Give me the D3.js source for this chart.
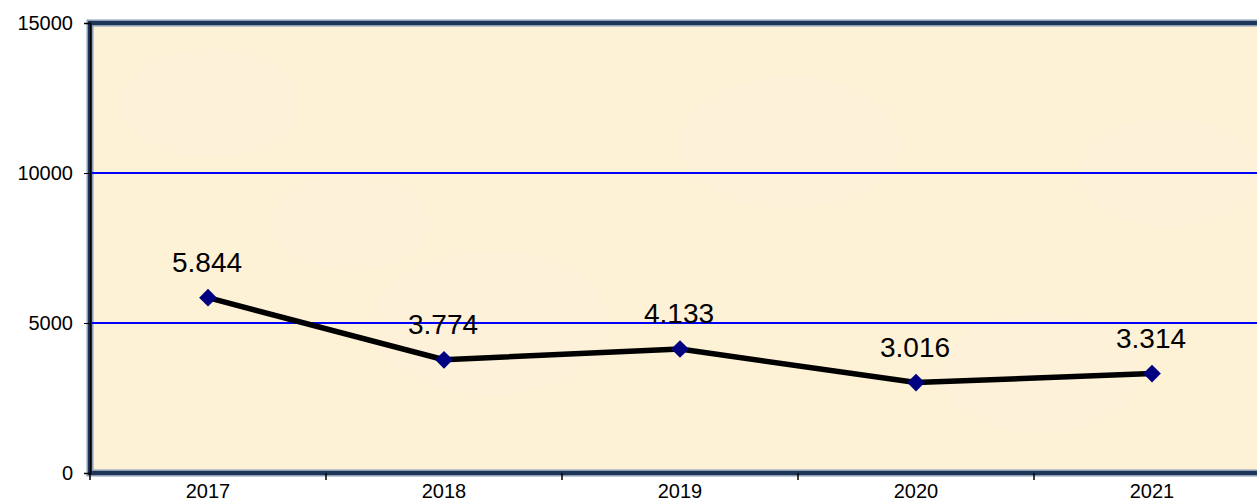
<!DOCTYPE html>
<html lang="en">
<head>
  <meta charset="UTF-8">
  <script src="https://cdn.jsdelivr.net/npm/d3@7"></script>
  <title>Line chart 2017-2021</title>
  <style>
    body { margin: 0; background: #fff; }
    svg { display: block; font-family: Arial, "Liberation Sans", sans-serif; }
  </style>
</head>
<body>
  <svg id="chart" width="1257" height="501"></svg>
  <script>
    // data
    const years = ["2017", "2018", "2019", "2020", "2021"];
    const values = [5844, 3774, 4133, 3016, 3314];
    const labels = ["5.844", "3.774", "4.133", "3.016", "3.314"];
    const yTicks = [0, 5000, 10000, 15000];

    let svg = d3.select("#chart");
    let margin = { left: 90, top: 23 };
    let width = 1180, height = 450;

    let g = svg.append("g").attr("transform", `translate(${margin.left},${margin.top})`);

    /* SCALES */
    let x = d3.scaleBand().domain(years).range([0, width]);
    let y = d3.scaleLinear().domain([0, 15000]).range([height, 0]);

    /* PLOT AREA */
    g.append("rect")
      .attr("x", 0).attr("y", 0)
      .attr("width", width).attr("height", height)
      .attr("fill", "#fdf1d6")
      .attr("stroke", "#8b9bb4").attr("stroke-width", 7);
    g.append("rect")
      .attr("x", 0).attr("y", 0)
      .attr("width", width).attr("height", height)
      .attr("fill", "none")
      .attr("stroke", "#1d3557").attr("stroke-width", 4);

    // faint blotches to hint at the parchment texture
    const blotches = [[120, 80, 90], [400, 300, 120], [700, 120, 110], [950, 350, 100], [260, 200, 80], [1080, 150, 90]];
    g.selectAll(".blotch")
      .data(blotches)
      .enter()
      .append("ellipse")
      .attr("cx", d => d[0]).attr("cy", d => d[1])
      .attr("rx", d => d[2]).attr("ry", d => d[2] * 0.6)
      .attr("fill", "#fff7e6").attr("opacity", 0.2);

    /* GRID */
    g.selectAll(".grid")
      .data([5000, 10000])
      .enter()
      .append("line")
      .attr("x1", 2).attr("x2", width)
      .attr("y1", d => y(d)).attr("y2", d => y(d))
      .attr("stroke", "#0000ff").attr("stroke-width", 2);

    /* AXES */
    let axisY = d3.axisLeft(y).tickValues(yTicks).tickSize(6).tickFormat(d3.format("d"));
    let yAxis = g.append("g").call(axisY);
    yAxis.select(".domain").attr("stroke", "#000").attr("stroke-width", 1.5);
    yAxis.selectAll("text").attr("font-size", 20).attr("fill", "#000").attr("dx", -8);

    let axisX = d3.axisBottom(x).tickSize(0).tickPadding(11);
    let xAxis = g.append("g").attr("transform", `translate(0,${height})`).call(axisX);
    xAxis.select(".domain").remove();
    xAxis.selectAll("text").attr("font-size", 20).attr("fill", "#000");

    // tick marks between categories
    g.selectAll(".sep")
      .data(years.concat(["end"]))
      .enter()
      .append("line")
      .attr("x1", (d, i) => i * x.step()).attr("x2", (d, i) => i * x.step())
      .attr("y1", height).attr("y2", height + 7)
      .attr("stroke", "#000").attr("stroke-width", 1.5);

    /* LINE */
    let cx = (d, i) => x(years[i]) + x.bandwidth() / 2;
    let line = d3.line().x(cx).y(d => y(d));
    g.append("path")
      .datum(values)
      .attr("d", line)
      .attr("fill", "none")
      .attr("stroke", "#000")
      .attr("stroke-width", 5.5)
      .attr("stroke-linejoin", "round");

    g.selectAll(".marker")
      .data(values)
      .enter()
      .append("path")
      .attr("d", d3.symbol().type(d3.symbolDiamond2).size(200))
      .attr("transform", (d, i) => `translate(${cx(d, i)},${y(d)})`)
      .attr("fill", "#000080");

    /* VALUE LABELS */
    g.selectAll(".label")
      .data(values)
      .enter()
      .append("text")
      .text((d, i) => labels[i])
      .attr("x", (d, i) => cx(d, i) - 1)
      .attr("y", d => y(d) - 26)
      .attr("text-anchor", "middle")
      .attr("font-size", 28)
      .attr("fill", "#000");
  </script>
</body>
</html>
